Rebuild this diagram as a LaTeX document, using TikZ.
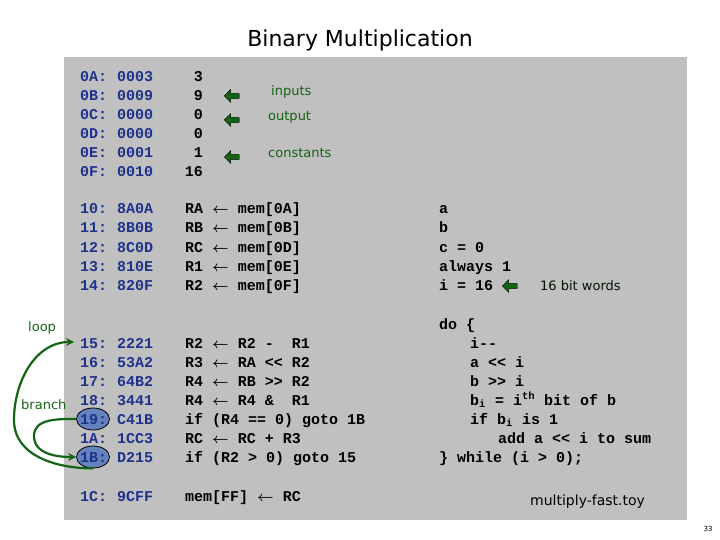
\documentclass[tikz,border=0pt]{standalone}
\usepackage{fontspec}
\usepackage{amsmath}
\usepackage{bm}
\setmonofont{Liberation Mono}
\setsansfont{DejaVu Sans}
\usetikzlibrary{positioning, shapes.arrows, shapes.geometric, arrows.meta}
\definecolor{panel}{RGB}{192,192,192}
\definecolor{addrblue}{RGB}{30,50,140}
\definecolor{labgreen}{RGB}{20,100,20}
\definecolor{ringblue}{RGB}{100,130,190}
\tikzset{
  code/.style={anchor=base west, inner sep=0pt, font=\fontsize{15}{19}\selectfont\ttfamily\bfseries},
  addr/.style={code, text=addrblue},
  dec/.style={code, anchor=base east},
  note/.style={anchor=base west, inner sep=0pt, text=labgreen, font=\fontsize{13}{15}\selectfont\sffamily},
  garrow/.style={single arrow, shape border rotate=180, draw=black, fill=labgreen,
    minimum height=15pt, minimum width=13pt, single arrow head extend=2pt, inner sep=1pt},
  ring/.style={ellipse, draw=black, thick, fill=ringblue, minimum width=33pt, minimum height=22pt, inner sep=0pt},
  jump/.style={draw=labgreen, line width=2.2pt, -{Stealth[length=8pt,width=8pt]}}
}
\begin{document}
\begin{tikzpicture}[x=1pt,y=-1pt]
  \useasboundingbox (0,0) rectangle (720,540);
  \fill[panel] (64,57) rectangle (687,520);
  \node[font=\fontsize{22}{26}\selectfont\sffamily] (title) at (360,40) {Binary Multiplication};
  % rings behind the addresses
  \node[ring] (r19) at (93,419) {};
  \node[ring] (r1B) at (93,457) {};
  % memory: data
  \foreach \a/\h/\d [count=\i] in {0A/0003/3, 0B/0009/9, 0C/0000/0, 0D/0000/0, 0E/0001/1, 0F/0010/16}{
    \node[addr] (ad\a) at (80,{63+19*\i}) {\a:};
    \node[addr] (hx\a) at (117,{63+19*\i}) {\h};
    \node[dec] (dc\a) at (203,{63+19*\i}) {\d};
  }
  % memory: load instructions
  \foreach \a/\h/\r/\m [count=\i] in {10/8A0A/RA/0A, 11/8B0B/RB/0B, 12/8C0D/RC/0D, 13/810E/R1/0E, 14/820F/R2/0F}{
    \node[addr] (ad\a) at (80,{195+19*\i}) {\a:};
    \node[addr] (hx\a) at (117,{195+19*\i}) {\h};
    \node[code] (cd\a) at (185,{195+19*\i}) {\r\ $\bm{\leftarrow}$ mem[\m]};
  }
  % memory: loop body
  \foreach \a/\h/\c [count=\i] in {15/2221/{R2 $\bm{\leftarrow}$ R2 -\ \ R1}, 16/53A2/{R3 $\bm{\leftarrow}$ RA << R2},
      17/64B2/{R4 $\bm{\leftarrow}$ RB >> R2}, 18/3441/{R4 $\bm{\leftarrow}$ R4 \&\ \ R1},
      19/C41B/{if (R4 == 0) goto 1B}, 1A/1CC3/{RC $\bm{\leftarrow}$ RC + R3}, 1B/D215/{if (R2 > 0) goto 15}}{
    \node[addr] (ad\a) at (80,{329+19*\i}) {\a:};
    \node[addr] (hx\a) at (117,{329+19*\i}) {\h};
    \node[code] (cd\a) at (185,{329+19*\i}) {\c};
  }
  \node[addr] (ad1C) at (80,501) {1C:};
  \node[addr] (hx1C) at (117,501) {9CFF};
  \node[code] (cd1C) at (185,501) {mem[FF] $\bm{\leftarrow}$ RC};
  % green pointers
  \node[garrow] (pa) at (233,96) {};
  \node[garrow] (pb) at (233,120) {};
  \node[garrow] (pc) at (233,157) {};
  \node[note] (inputs) at (271,96) {inputs};
  \node[note] (output) at (268,121) {output};
  \node[note] (consts) at (268,158) {constants};
  % pseudo code
  \foreach \t [count=\i] in {a, b, c = 0, always 1, i = 16}
    \node[code] (pv\i) at (439,{195+19*\i}) {\t};
  \node[garrow] (pw) at (511,286) {};
  \node[note, text=black!80!labgreen] (words) at (540,290) {16 bit words};
  \node[code] (dl1) at (439,329) {do \{};
  \node[code] (dl2) at (470,348) {i--};
  \node[code] (dl3) at (470,367) {a << i};
  \node[code] (dl4) at (470,386) {b >> i};
  \node[code] (dl5) at (470,405) {b\textsubscript{i} = i\textsuperscript{th} bit of b};
  \node[code] (dl6) at (470,424) {if b\textsubscript{i} is 1};
  \node[code] (dl7) at (498,443) {add a << i to sum};
  \node[code] (dl8) at (439,462) {\} while (i > 0);};
  \node[anchor=base west, inner sep=0pt, font=\fontsize{14}{16}\selectfont\sffamily] (file) at (530,505) {multiply-fast.toy};
  \node[font=\fontsize{7}{8}\selectfont\sffamily] (page) at (708,529) {33};
  % jump labels and arrows
  \node[note] (loop) at (28,331) {loop};
  \node[note] (branch) at (21,409) {branch};
  \coordinate (l15) at (74,342);
  \draw[jump] (r1B.south) to[out=180,in=-90] (14,420) to[out=90,in=180] (l15);
  \draw[jump] (r19.west) to[out=180,in=90] (34,436) to[out=-90,in=180] (r1B.west);
\end{tikzpicture}
\end{document}
